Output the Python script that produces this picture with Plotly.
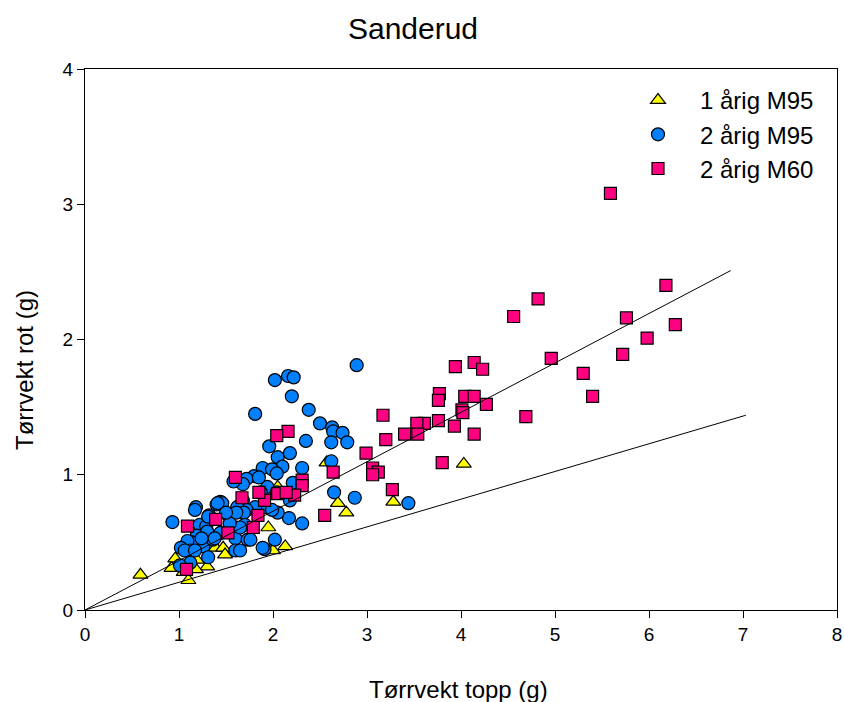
import plotly.graph_objects as go

# ---- data ----
tri_x = [0.59, 0.92, 0.96, 1.10, 1.19, 1.30, 1.39, 1.47, 1.49, 1.95, 2.00, 2.13,
         2.05, 2.57, 2.69, 2.78, 3.28, 4.03, 1.05, 1.18]
tri_y = [0.26, 0.31, 0.38, 0.22, 0.37, 0.32, 0.46, 0.46, 0.41, 0.61, 0.44, 0.47,
         0.91, 1.09, 0.79, 0.72, 0.80, 1.08, 0.28, 0.30]

circ_x = [2.89, 2.02, 2.16, 2.22, 2.20, 1.81, 2.38, 2.50, 2.63, 2.64, 2.74, 2.62, 2.79,
          2.35, 1.96, 2.05, 2.18, 2.62,
          2.10, 2.31, 1.89, 1.99, 2.04, 1.80, 1.72, 1.68, 1.94, 1.87, 2.21, 2.65, 2.87,
          3.44, 2.17, 2.31, 2.04, 2.05, 2.02, 2.18, 1.91, 1.99, 1.81, 1.68, 1.72,
          1.44, 1.40, 1.18, 1.17, 1.32, 1.51, 1.62, 1.69, 0.93, 1.22, 1.29, 1.54, 1.61,
          1.70, 1.60, 1.73, 1.91, 1.60, 1.65, 1.19, 1.14, 1.09, 1.26, 1.02, 1.12, 1.26,
          1.31, 1.12, 1.01, 1.36, 1.44, 1.30, 1.46, 1.61, 1.24, 1.06, 1.17, 1.38, 1.76,
          1.89, 1.65, 1.54, 1.50, 1.31, 1.41, 1.58, 1.85]
circ_y = [1.81, 1.70, 1.73, 1.72, 1.58, 1.45, 1.48, 1.38, 1.35, 1.32, 1.31, 1.24, 1.24,
          1.25, 1.21, 1.13, 1.16, 1.10,
          1.06, 1.05, 1.05, 1.04, 1.01, 0.99, 0.97, 0.93, 0.91, 0.87, 0.94, 0.87, 0.83,
          0.79, 0.68, 0.64, 0.87, 0.72, 0.52, 0.81, 0.76, 0.74, 0.76, 0.81, 0.74,
          0.80, 0.78, 0.76, 0.74, 0.70, 0.71, 0.76, 0.72, 0.65, 0.63, 0.62, 0.64, 0.61,
          0.63, 0.53, 0.52, 0.45, 0.44, 0.44, 0.55, 0.50, 0.51, 0.52, 0.46, 0.44, 0.47,
          0.39, 0.35, 0.33, 0.52, 0.57, 0.58, 0.79, 0.72, 0.53, 0.44, 0.44, 0.53, 0.52,
          0.46, 0.61, 0.64, 0.72, 0.69, 0.79, 0.95, 0.98]

sq_x = [5.59, 6.18, 4.82, 4.56, 6.28, 5.76, 5.98, 5.72, 4.96, 5.30, 5.40, 4.69,
        3.94, 4.14, 4.23, 3.77, 3.76, 4.04, 4.14, 4.27, 4.01, 4.02, 3.76, 3.61, 3.53,
        3.93, 4.14, 3.54, 3.40, 3.17, 3.20, 2.99, 3.06, 3.12, 3.06, 3.80, 3.27,
        2.55, 2.64, 2.16, 2.04, 2.31, 2.31, 2.23, 2.05, 2.14, 1.91, 1.85, 1.67, 1.60,
        1.84, 1.79, 1.39, 1.52, 1.09, 1.08]
sq_y = [3.08, 2.40, 2.30, 2.17, 2.11, 2.16, 2.01, 1.89, 1.86, 1.75, 1.58, 1.43,
        1.80, 1.83, 1.78, 1.60, 1.55, 1.58, 1.58, 1.52, 1.48, 1.46, 1.40, 1.38, 1.38,
        1.36, 1.30, 1.30, 1.30, 1.44, 1.26, 1.16, 1.05, 1.02, 1.00, 1.09, 0.89,
        0.70, 1.02, 1.32, 1.29, 0.96, 0.92, 0.85, 0.86, 0.87, 0.81, 0.87, 0.83, 0.98,
        0.70, 0.61, 0.67, 0.57, 0.62, 0.30]

series_names = ["1 årig M95", "2 årig M95", "2 årig M60"]
fit_x = [[0, 6.87], [0, 7.03]]
fit_y = [[0, 2.51], [0, 1.44]]

x_ticks = [0, 1, 2, 3, 4, 5, 6, 7, 8]
y_ticks = [0, 1, 2, 3, 4]

FONT = "Liberation Sans, Arial, sans-serif"

fig = go.Figure()
fig.add_trace(go.Scatter(x=tri_x, y=tri_y, mode="markers", name=series_names[0],
                         marker=dict(symbol="triangle-up", size=13, color="#FFFF00",
                                     line=dict(color="black", width=1.2))))
fig.add_trace(go.Scatter(x=circ_x, y=circ_y, mode="markers", name=series_names[1],
                         marker=dict(symbol="circle", size=13, color="#0080FF",
                                     line=dict(color="black", width=1.2))))
fig.add_trace(go.Scatter(x=sq_x, y=sq_y, mode="markers", name=series_names[2],
                         marker=dict(symbol="square", size=12, color="#FF0080",
                                     line=dict(color="black", width=1.2))))
for fx, fy in zip(fit_x, fit_y):
    fig.add_trace(go.Scatter(x=fx, y=fy, mode="lines", showlegend=False,
                             line=dict(color="black", width=1), hoverinfo="skip"))

axis_common = dict(showgrid=False, zeroline=False, showline=True, linecolor="black",
                   linewidth=1.2, mirror=True, ticks="outside", ticklen=7,
                   tickcolor="black", tickwidth=1.2,
                   tickfont=dict(family=FONT, size=19, color="black"))

fig.update_xaxes(range=[0, 8], tickvals=x_ticks, **axis_common)
fig.update_yaxes(range=[0, 4], tickvals=y_ticks, **axis_common)

fig.update_layout(
    width=844, height=702,
    margin=dict(l=85, r=7, t=69, b=92, autoexpand=False),
    paper_bgcolor="white", plot_bgcolor="white",
    font=dict(family=FONT, color="black"),
    title=dict(text="Sanderud", x=413 / 844, xanchor="center", xref="container",
               y=1 - 28 / 702, yanchor="middle", yref="container",
               font=dict(family=FONT, size=30, color="black")),
    legend=dict(x=(616 - 85) / 752, y=1 - (78 - 69) / 541, xanchor="left", yanchor="top",
                bgcolor="rgba(0,0,0,0)", font=dict(family=FONT, size=24, color="black"),
                itemwidth=74, tracegroupgap=0),
    showlegend=True,
    annotations=[
        dict(text="Tørrvekt topp (g)", xref="paper", yref="paper",
             x=(458 - 85) / 752, y=-(689 - 610) / 541, xanchor="center", yanchor="middle",
             showarrow=False, font=dict(family=FONT, size=24, color="black")),
        dict(text="Tørrvekt rot (g)", xref="paper", yref="paper",
             x=-(85 - 25) / 752, y=(610 - 370) / 541, xanchor="center", yanchor="middle",
             textangle=-90, showarrow=False, font=dict(family=FONT, size=24, color="black")),
    ],
)

fig.write_html("out.html", config={"displayModeBar": False},
               post_script="document.body.style.margin='0';document.body.style.overflow='hidden';")
